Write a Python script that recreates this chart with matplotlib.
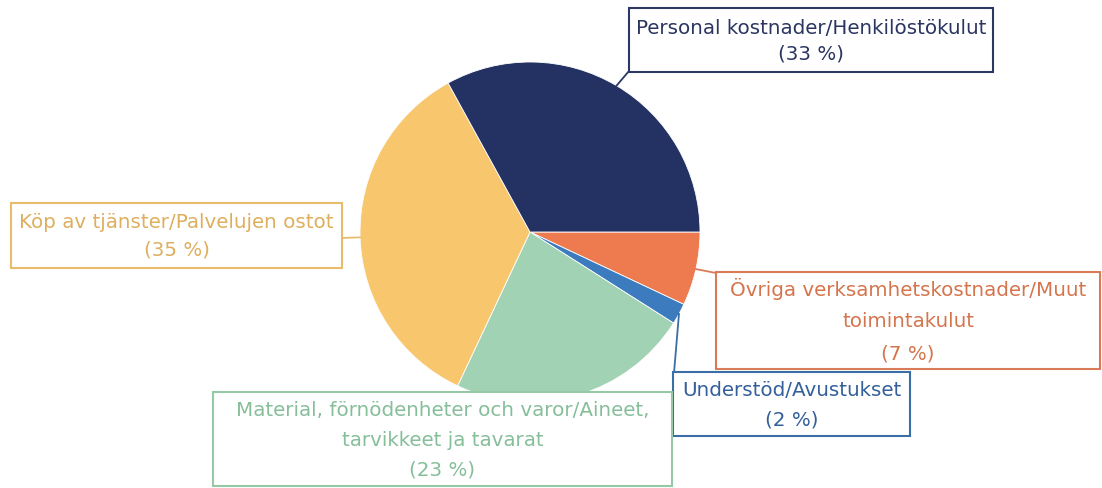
import numpy as np
import matplotlib
matplotlib.use("Agg")
import matplotlib.pyplot as plt
from matplotlib.patches import Rectangle

# slices, clockwise from 3 o'clock
names = ["Övriga verksamhetskostnader/Muut toimintakulut",
         "Understöd/Avustukset",
         "Material, förnödenheter och varor/Aineet, tarvikkeet ja tavarat",
         "Köp av tjänster/Palvelujen ostot",
         "Personal kostnader/Henkilöstökulut"]
shares = [7, 2, 23, 35, 33]
colors = ["#EE7A4F", "#3C7BBD", "#A1D2B3", "#F8C66C", "#233263"]
edge_colors = ["#D97B56", "#3A6EA6", "#95C9A6", "#E9BC6C", "#2C3765"]
text_colors = ["#D4754D", "#335F9A", "#86BE9A", "#DDAF5E", "#2A3560"]

label_lines = [
    ["Övriga verksamhetskostnader/Muut", "toimintakulut", "(7 %)"],
    ["Understöd/Avustukset", "(2 %)"],
    ["Material, förnödenheter och varor/Aineet,", "tarvikkeet ja tavarat", "(23 %)"],
    ["Köp av tjänster/Palvelujen ostot", "(35 %)"],
    ["Personal kostnader/Henkilöstökulut", "(33 %)"],
]

# label boxes in pixel layout: x0, y0, x1, y1, line spacing, leader end
boxes = [
    (716, 273, 1100, 370, 32, (716, 274)),
    (673, 373, 910, 437, 29, (674, 374)),
    (213, 393, 672, 487, 30, None),
    (11, 204, 342, 269, 28, (342, 239)),
    (629, 9, 993, 73, 26, (629, 72)),
]

W, H = 1102, 489
cx, cy, R = 530, 233, 170

fig = plt.figure(figsize=(W / 100, H / 100), dpi=100)
ax = fig.add_axes([0, 0, 1, 1])

# y axis inverted -> counterclock in data space is clockwise on screen
wedges, _ = ax.pie(shares, colors=colors, startangle=0, counterclock=True,
                   center=(cx, cy), radius=R, frame=True,
                   wedgeprops=dict(linewidth=0.6, edgecolor="white"))
ax.set_xlim(0, W)
ax.set_ylim(H, 0)
ax.axis("off")

for w, lines, box, ec, tc in zip(wedges, label_lines, boxes, edge_colors, text_colors):
    x0, y0, x1, y1, gap, lead = box
    if lead is not None:
        mid = np.deg2rad((w.theta1 + w.theta2) / 2)
        px, py = cx + R * np.cos(mid), cy + R * np.sin(mid)
        ax.plot([px, lead[0]], [py, lead[1]], color=ec, lw=1.3, zorder=3)
    ax.add_patch(Rectangle((x0, y0), x1 - x0, y1 - y0, facecolor="white",
                           edgecolor=ec, lw=1.5, zorder=4))
    n = len(lines)
    yc = (y0 + y1) / 2
    for i, t in enumerate(lines):
        ty = yc + (i - (n - 1) / 2) * gap
        ax.text((x0 + x1) / 2, ty, t, ha="center", va="center", color=tc,
                fontsize=14.3, family="DejaVu Sans", zorder=5)

fig.savefig("out.png", dpi=100)
